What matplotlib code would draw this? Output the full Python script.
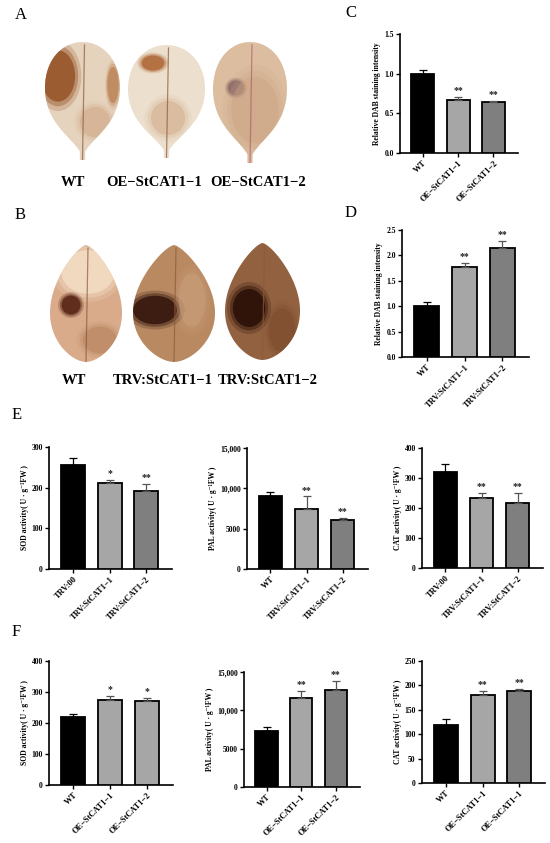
import numpy as np
import matplotlib
matplotlib.use('Agg')
import matplotlib.pyplot as plt
from matplotlib.patches import Polygon, Ellipse

plt.rcParams['font.family'] = ['Liberation Serif', 'DejaVu Serif']
plt.rcParams['font.weight'] = 'bold'

# data
oe_groups = ['WT', 'OE\u2212StCAT1\u22121', 'OE\u2212StCAT1\u22122']
trv_groups = ['WT', 'TRV:StCAT1\u22121', 'TRV:StCAT1\u22122']
trv00_groups = ['TRV:00', 'TRV:StCAT1\u22121', 'TRV:StCAT1\u22122']
oe_groups_cat = ['WT', 'OE\u2212StCAT1\u22121', 'OE\u2212StCAT1\u22121']

dab_oe = [1.00, 0.67, 0.64]
dab_oe_err = [0.04, 0.04, 0.02]
dab_trv = [1.00, 1.78, 2.14]
dab_trv_err = [0.08, 0.08, 0.15]

sod_trv = [255, 212, 193]
sod_trv_err = [18, 8, 16]
pal_trv = [9100, 7500, 6100]
pal_trv_err = [500, 1500, 250]
cat_trv = [320, 233, 217]
cat_trv_err = [27, 17, 33]

sod_oe = [220, 273, 272]
sod_oe_err = [8, 13, 9]
pal_oe = [7300, 11600, 12600]
pal_oe_err = [500, 900, 1200]
cat_oe = [118, 181, 189]
cat_oe_err = [13, 7, 4]

stars_c = ['', '**', '**']
stars_d = ['', '**', '**']
stars_e_sod = ['', '*', '**']
stars_e_pal = ['', '**', '**']
stars_e_cat = ['', '**', '**']
stars_f_sod = ['', '*', '*']
stars_f_pal = ['', '**', '**']
stars_f_cat = ['', '**', '**']

BLACK = '#000000'
LGRAY = '#a6a6a6'
MGRAY = '#7f7f7f'

W, H = 550, 843
fig = plt.figure(figsize=(W / 100, H / 100), dpi=100)

def px_axes(l, t, r, b):
    return fig.add_axes([l / W, 1 - b / H, (r - l) / W, (b - t) / H])

# background canvas for photos and labels
bg = fig.add_axes([0, 0, 1, 1], zorder=0)
bg.set_xlim(0, W)
bg.set_ylim(H, 0)
bg.axis('off')


def leaf_outline(x0, x1, top, bottom, kind):
    t = np.linspace(0, 1, 400)
    if kind == 'round':
        body = np.sqrt(np.clip(1 - (2 * t ** 1.4 - 1) ** 2, 0, None))
        p = 1 + 1.6 * (1 - t) ** 3
        h = body ** p
        h = np.where(t < 0.16, np.maximum(h, 0.07), h)
    else:
        h = np.sin(np.pi * t ** 0.8) ** 0.7
    cx = (x0 + x1) / 2
    w = (x1 - x0) / 2
    y = bottom - t * (bottom - top)
    xs = np.concatenate([cx + h * w, (cx - h * w)[::-1]])
    ys = np.concatenate([y, y[::-1]])
    return np.column_stack([xs, ys])


def draw_leaf(x0, x1, top, bottom, kind, face, stains, vein='#8a5a3a'):
    pts = leaf_outline(x0, x1, top, bottom, kind)
    leaf = Polygon(pts, closed=True, facecolor=face, edgecolor='none')
    bg.add_patch(leaf)
    for (sx, sy, sw, sh, sc, sa) in stains:
        for f, a in zip([1.3, 1.12, 0.95], [0.25, 0.45, 1.0]):
            e = Ellipse((sx, sy), sw * f, sh * f, facecolor=sc, edgecolor='none',
                        alpha=sa * a)
            bg.add_patch(e)
            e.set_clip_path(leaf)
    cx = (x0 + x1) / 2
    ln, = bg.plot([cx, cx + 2], [bottom, top + 3], color=vein, lw=0.9, alpha=0.7)
    ln.set_clip_path(leaf)


# panel A leaves
draw_leaf(45, 120, 42, 160, 'round', '#e6d3bd',
          [(58, 76, 36, 54, '#9a5a2e', 0.95), (113, 85, 12, 38, '#b98050', 0.7),
           (95, 122, 32, 32, '#d0a886', 0.5)])
draw_leaf(128, 205, 45, 158, 'round', '#ecdfcd',
          [(153, 63, 24, 16, '#b06a3a', 0.85), (168, 118, 36, 36, '#d2ae8a', 0.5)])
draw_leaf(213, 287, 42, 163, 'round', '#dcbd9f',
          [(236, 88, 17, 16, '#8c6a6a', 0.95), (255, 110, 50, 70, '#caa282', 0.45)],
          vein='#b0606a')

# panel B leaves
draw_leaf(50, 122, 245, 362, 'point', '#d9ab8b',
          [(88, 272, 56, 46, '#f2dcc2', 0.9), (71, 305, 20, 20, '#5e2a1a', 0.95),
           (100, 340, 36, 28, '#b98560', 0.6)])
draw_leaf(133, 215, 245, 362, 'point', '#b98a62',
          [(155, 310, 46, 30, '#3b1a10', 0.95), (192, 300, 28, 56, '#caa07c', 0.5)])
draw_leaf(225, 300, 243, 360, 'point', '#916140',
          [(249, 308, 34, 40, '#2e1208', 0.95), (282, 330, 28, 46, '#7a4a2c', 0.5)])

leaf_font = dict(fontsize=10.5, fontweight='bold', ha='center', va='center')
for x, lab in zip([73, 154, 258], oe_groups):
    bg.text(x, 183, lab, **leaf_font)
for x, lab in zip([74, 163, 268], trv_groups):
    bg.text(x, 380, lab, **leaf_font)

letter_font = dict(fontsize=12, fontweight='normal', ha='left', va='center')
for x, y, s in [(15, 15, 'A'), (345, 13, 'C'), (15, 215, 'B'), (345, 213, 'D'),
                (12, 415, 'E'), (12, 632, 'F')]:
    bg.text(x, y, s, **letter_font)


def bar_panel(ax, labels, values, errors, colors, stars, ymax, yticks, yticklabels, ylabel):
    x = np.arange(len(values))
    ax.bar(x, values, width=0.65, color=colors, edgecolor='black', linewidth=1.3, zorder=3)
    for xi, v, e, c in zip(x, values, errors, colors):
        ec = 'black' if c == BLACK else '#555555'
        ax.errorbar([xi], [v], yerr=[[0], [e]], fmt='none', ecolor=ec,
                    elinewidth=0.9, capsize=3, capthick=0.9, zorder=4, clip_on=False)
    for xi, v, e, s in zip(x, values, errors, stars):
        if s:
            ax.text(xi, v + e + 0.015 * ymax, s, ha='center', va='bottom',
                    fontsize=7, fontweight='bold', color='#222222')
    ax.set_xlim(-0.65, 2.7)
    ax.set_ylim(0, ymax)
    ax.set_yticks(yticks)
    ax.set_yticklabels(yticklabels, fontsize=5.5, fontweight='bold')
    ax.set_xticks(x)
    ax.set_xticklabels(labels, rotation=45, ha='right', rotation_mode='anchor',
                       fontsize=6, fontweight='bold')
    ax.set_ylabel(ylabel, fontsize=5.5, fontweight='bold', labelpad=2)
    for side in ['top', 'right']:
        ax.spines[side].set_visible(False)
    for side in ['left', 'bottom']:
        ax.spines[side].set_linewidth(1.2)
    ax.tick_params(axis='both', length=3, width=1, pad=1.5)
    ax.set_facecolor('none')


cols3 = [BLACK, LGRAY, MGRAY]

ax_c = px_axes(400, 34, 518, 153)
bar_panel(ax_c, oe_groups, dab_oe, dab_oe_err, cols3, stars_c, 1.5,
          [0, 0.5, 1.0, 1.5], ['0.0', '0.5', '1.0', '1.5'],
          'Relative DAB staining intensity')

ax_d = px_axes(402, 230, 529, 357)
bar_panel(ax_d, trv_groups, dab_trv, dab_trv_err, cols3, stars_d, 2.5,
          [0, 0.5, 1.0, 1.5, 2.0, 2.5], ['0.0', '0.5', '1.0', '1.5', '2.0', '2.5'],
          'Relative DAB staining intensity')

unit = '( U \u00b7 g\u207b\u00b9FW )'
sod_lab = 'SOD activity' + unit
pal_lab = 'PAL activity' + unit
cat_lab = 'CAT activity' + unit
pal_ticks = [0, 5000, 10000, 15000]
pal_ticklabels = ['0', '5000', '10,000', '15,000']

ax_e1 = px_axes(49, 447, 172, 569)
bar_panel(ax_e1, trv00_groups, sod_trv, sod_trv_err, cols3, stars_e_sod, 300,
          [0, 100, 200, 300], ['0', '100', '200', '300'], sod_lab)

ax_e2 = px_axes(247, 448, 368, 569)
bar_panel(ax_e2, trv_groups, pal_trv, pal_trv_err, cols3, stars_e_pal, 15000,
          pal_ticks, pal_ticklabels, pal_lab)

ax_e3 = px_axes(422, 448, 543, 568)
bar_panel(ax_e3, trv00_groups, cat_trv, cat_trv_err, cols3, stars_e_cat, 400,
          [0, 100, 200, 300, 400], ['0', '100', '200', '300', '400'], cat_lab)

ax_f1 = px_axes(49, 661, 173, 785)
bar_panel(ax_f1, oe_groups, sod_oe, sod_oe_err, [BLACK, LGRAY, LGRAY], stars_f_sod, 400,
          [0, 100, 200, 300, 400], ['0', '100', '200', '300', '400'], sod_lab)

ax_f2 = px_axes(244, 672, 360, 787)
bar_panel(ax_f2, oe_groups, pal_oe, pal_oe_err, cols3, stars_f_pal, 15000,
          pal_ticks, pal_ticklabels, pal_lab)

ax_f3 = px_axes(422, 661, 545, 783)
bar_panel(ax_f3, oe_groups_cat, cat_oe, cat_oe_err, cols3, stars_f_cat, 250,
          [0, 50, 100, 150, 200, 250], ['0', '50', '100', '150', '200', '250'], cat_lab)

fig.savefig('out.png', dpi=100, facecolor='white')
